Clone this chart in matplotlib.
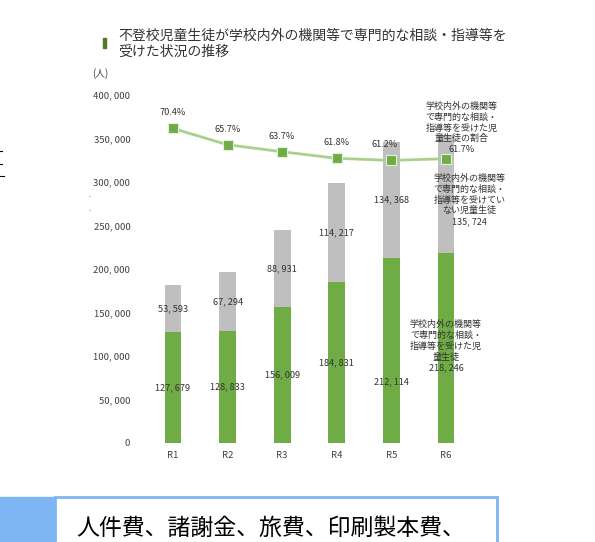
import matplotlib
matplotlib.use("Agg")
import matplotlib.pyplot as plt
from matplotlib.patches import Rectangle
from matplotlib.lines import Line2D

plt.rcParams['font.family'] = ['Noto Sans CJK JP', 'DejaVu Sans']

years = ["R1", "R2", "R3", "R4", "R5", "R6"]
received = [127679, 128833, 156009, 184831, 212114, 218246]
not_received = [53593, 67294, 88931, 114217, 134368, 135724]
ratio = [70.4, 65.7, 63.7, 61.8, 61.2, 61.7]
yticks = [0, 50000, 100000, 150000, 200000, 250000, 300000, 350000, 400000]

green = "#6fac46"
grey = "#bfbfbf"
line_green = "#a9d18e"
txt = "#404040"


def fmt(v):
    s = f"{v:,}"
    return s.replace(",", ", ")


fig = plt.figure(figsize=(5.95, 5.42), dpi=100)
ax = fig.add_axes([140 / 595, 99 / 542, 340 / 595, 348 / 542])
x = list(range(len(years)))
w = 0.31

ax.bar(x, received, width=w, color=green, zorder=2)
ax.bar(x, not_received, width=w, bottom=received, color=grey, zorder=2)

ax.set_xlim(-0.604, 5.623)
ax.set_ylim(0, 400000)
ax.set_yticks(yticks)
ax.set_yticklabels([fmt(v) for v in yticks], fontsize=6.8, color=txt)
ax.set_xticks(x)
ax.set_xticklabels(years, fontsize=6.8, color=txt)
ax.tick_params(length=0, pad=7)
ax.tick_params(axis="x", pad=6)
for s in ax.spines.values():
    s.set_visible(False)

# labels on bars
for i in range(len(years)):
    g = received[i]
    n = not_received[i]
    if i < 4:
        ax.text(i, g / 2, fmt(g), ha="center", va="center", fontsize=6.6, color="#333333", zorder=3)
    if i < 5:
        ax.text(i, g + n / 2, fmt(n), ha="center", va="center", fontsize=6.6, color="#333333", zorder=3)

ax.text(4, received[4] * 0.33, fmt(received[4]), ha="center", va="center", fontsize=6.6,
        color="#333333", zorder=3)
ax.text(5, received[5] * 0.37,
        "学校内外の機関等\nで専門的な相談・\n指導等を受けた児\n童生徒\n" + fmt(received[5]),
        ha="center", va="bottom", fontsize=6.5, color="#333333", linespacing=1.25, zorder=3)
ax.text(5.43, received[5] + not_received[5] * 0.45,
        "学校内外の機関等\nで専門的な相談・\n指導等を受けてい\nない児童生徒\n" + fmt(not_received[5]),
        ha="center", va="center", fontsize=6.5, color="#333333", linespacing=1.25, zorder=3)

# ratio line
ax2 = ax.twinx()
ax2.set_ylim(-20, 80)
ax2.axis("off")
ax2.plot(x, ratio, color=line_green, lw=2, zorder=3)
ax2.plot(x, ratio, ls="none", marker="s", ms=6.5, mfc=green, mec="#e2efda", mew=0.8, zorder=4)
for i in range(len(years) - 1):
    dx = -0.12 if i == 4 else 0
    ax2.text(i + dx, ratio[i] + 3.2, f"{ratio[i]}%", ha="center", va="bottom", fontsize=6.6, color="#333333")
ax2.text(5.28, ratio[5] + 1.3, f"{ratio[5]}%", ha="center", va="bottom", fontsize=6.6, color="#333333")
ax2.text(5.28, ratio[5] + 4.4, "学校内外の機関等\nで専門的な相談・\n指導等を受けた児\n童生徒の割合",
         ha="center", va="bottom", fontsize=6.5, color="#333333", linespacing=1.25)

# title
fig.patches.append(Rectangle((103 / 595, 1 - 48 / 542), 3 / 595, 10 / 542, transform=fig.transFigure,
                             color="#4f7a28", figure=fig))
fig.text(118 / 595, 1 - 44 / 542, "不登校児童生徒が学校内外の機関等で専門的な相談・指導等を\n受けた状況の推移",
         ha="left", va="center", fontsize=10, color="#333333", linespacing=1.2)
fig.text(92 / 595, 1 - 74 / 542, "(人)", ha="left", va="center", fontsize=7, color=txt)

# cropped page bits
for yy, ln in [(151, 2), (164, 2), (176, 4)]:
    fig.lines.append(Line2D([0, ln / 595], [1 - yy / 542] * 2, transform=fig.transFigure, color="black", lw=0.8))
for yy in [198, 212]:
    fig.text(89 / 595, 1 - yy / 542, "·", fontsize=5, color="#555555", ha="center", va="center")

# bottom box
fig.patches.append(Rectangle((0, 0), 55 / 595, 45 / 542, transform=fig.transFigure, color="#7eb6f4",
                             figure=fig))
fig.patches.append(Rectangle((55 / 595, -5 / 542), 442 / 595, 50 / 542, transform=fig.transFigure,
                             facecolor="white", edgecolor="#7eb6f4", lw=2, figure=fig))
fig.text(76 / 595, 1 - 528 / 542, "人件費、諸謝金、旅費、印刷製本費、", ha="left", va="center",
         fontsize=16.5, color="black")

fig.savefig("out.png", dpi=100)
